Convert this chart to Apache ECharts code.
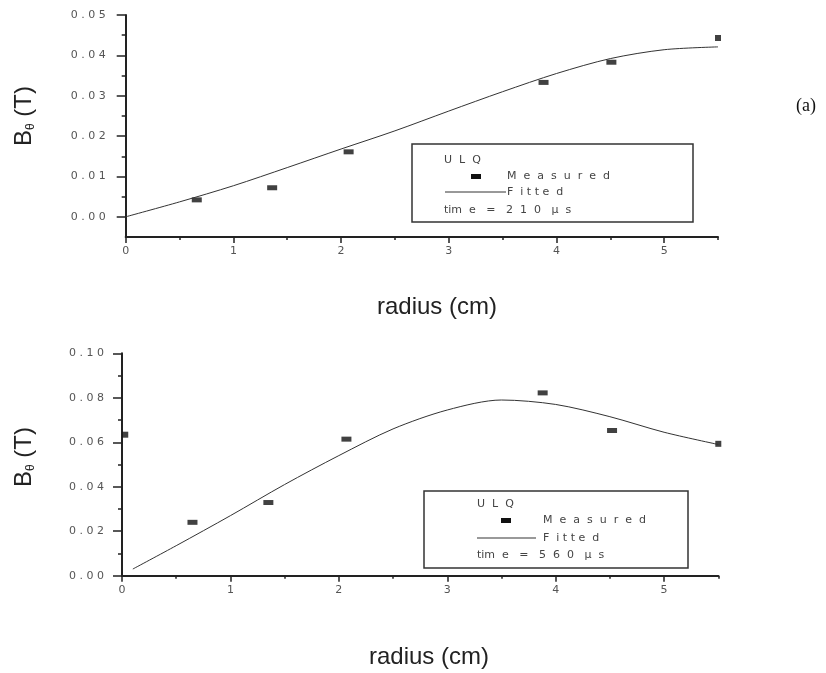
<!DOCTYPE html>
<html>
<head>
<meta charset="utf-8">
<script src="https://cdn.jsdelivr.net/npm/echarts@6/dist/echarts.min.js"></script>
<style>
  html, body { margin: 0; padding: 0; background: #fff; }
  #box { width: 826px; height: 673px; }
</style>
</head>
<body>
<div id="box"></div>
<script>
// panel (a) top: t = 210 us
var topR = [0.66, 1.36, 2.07, 3.88, 4.51, 5.50];
var topMeasured = [0.0042, 0.0072, 0.0161, 0.0333, 0.0383, 0.0443];
var topFitR = [0, 0.5, 1, 1.5, 2, 2.5, 3, 3.5, 4, 4.5, 5, 5.5];
var topFitB = [0, 0.0037, 0.0077, 0.0122, 0.0168, 0.0213, 0.0262, 0.0310, 0.0355, 0.0392, 0.0414, 0.0421];

// bottom: t = 560 us
var botR = [0.03, 0.65, 1.35, 2.07, 3.88, 4.52, 5.50];
var botMeasured = [0.0634, 0.0240, 0.0329, 0.0614, 0.0822, 0.0653, 0.0593];
var botFitR = [0.1, 0.5, 1, 1.5, 2, 2.5, 3, 3.5, 4, 4.5, 5, 5.5];
var botFitB = [0.003, 0.0135, 0.027, 0.041, 0.054, 0.066, 0.0745, 0.079, 0.077, 0.0715, 0.0645, 0.059];

// ticks
var xMajor = [0, 1, 2, 3, 4, 5];
var xMinor = [0.5, 1.5, 2.5, 3.5, 4.5, 5.5];
var topYMajor = [0, 0.01, 0.02, 0.03, 0.04, 0.05];
var topYMinor = [0.005, 0.015, 0.025, 0.035, 0.045];
var botYMajor = [0, 0.02, 0.04, 0.06, 0.08, 0.10];
var botYMinor = [0.01, 0.03, 0.05, 0.07, 0.09];

function pairs(a, b) {
    var out = [];
    for (var i = 0; i < a.length; i++) out.push([a[i], b[i]]);
    return out;
}
function spaced(s) { return s.split('').join(' '); }

var axisCol = '#222';
var labCol = '#555';
var tickFont = 'DejaVu Sans';

function xAxes(grid) {
    return [{
        type: 'value', gridIndex: grid, min: 0, max: 5.5, position: 'bottom',
        axisLine: { show: true, onZero: false, lineStyle: { color: axisCol, width: 2 } },
        axisTick: { show: true, customValues: xMajor, length: 6, lineStyle: { color: axisCol, width: 1.5 } },
        axisLabel: { customValues: xMajor, margin: 9, fontSize: 11, fontFamily: tickFont, color: labCol },
        splitLine: { show: false }
    }, {
        type: 'value', gridIndex: grid, min: 0, max: 5.5, position: 'bottom',
        axisLine: { show: false, onZero: false },
        axisTick: { show: true, customValues: xMinor, length: 3, lineStyle: { color: axisCol, width: 1.5 } },
        axisLabel: { show: false },
        splitLine: { show: false }
    }];
}
function yAxes(grid, min, max, major, minor, margin) {
    return [{
        type: 'value', gridIndex: grid, min: min, max: max, position: 'left',
        axisLine: { show: true, onZero: false, lineStyle: { color: axisCol, width: 2 } },
        axisTick: { show: true, customValues: major, length: 9, lineStyle: { color: axisCol, width: 1.5 } },
        axisLabel: {
            customValues: major, margin: margin, fontSize: 11, fontFamily: tickFont, color: labCol,
            formatter: function (v) { return spaced(v.toFixed(2)); }
        },
        splitLine: { show: false }
    }, {
        type: 'value', gridIndex: grid, min: min, max: max, position: 'left',
        axisLine: { show: false, onZero: false },
        axisTick: { show: true, customValues: minor, length: 4, lineStyle: { color: axisCol, width: 1.5 } },
        axisLabel: { show: false },
        splitLine: { show: false }
    }];
}

function markSize(v) {
    return (v[0] > 5.4 || v[0] < 0.1) ? [6, 6] : [10, 5];
}

var legFont = '11px "DejaVu Sans"';
function legendBox(x0, y0, x1, y1, tx, mx, my, lx0, lx1, ly, sx, rows, lineCol, lineW, timeTxt) {
    return [
        { type: 'rect', shape: { x: x0, y: y0, width: x1 - x0, height: y1 - y0 },
          style: { fill: 'none', stroke: '#333', lineWidth: 1.5 } },
        { type: 'text', x: tx, y: rows[0], style: { text: 'U  L  Q', font: legFont, fill: '#444', verticalAlign: 'middle' } },
        { type: 'rect', shape: { x: mx - 5, y: my - 2.5, width: 10, height: 5 }, style: { fill: '#111' } },
        { type: 'text', x: sx, y: rows[1], style: { text: 'M  e  a  s  u  r  e  d', font: legFont, fill: '#444', verticalAlign: 'middle' } },
        { type: 'line', shape: { x1: lx0, y1: ly, x2: lx1, y2: ly }, style: { stroke: lineCol, lineWidth: lineW } },
        { type: 'text', x: sx, y: rows[2], style: { text: 'F  i t t e  d', font: legFont, fill: '#444', verticalAlign: 'middle' } },
        { type: 'text', x: tx, y: rows[3], style: { text: timeTxt, font: legFont, fill: '#444', verticalAlign: 'middle' } }
    ];
}

var titleFont = '24px "Liberation Sans"';
function yTitle(x, y) {
    return {
        type: 'text', x: x, y: y, rotation: Math.PI / 2,
        style: {
            text: '{b|B}{s|θ}{b| (T)}', align: 'center', verticalAlign: 'middle',
            rich: {
                b: { font: titleFont, fill: '#222', lineHeight: 26, verticalAlign: 'middle' },
                s: { font: '12px "Liberation Sans"', fill: '#222', lineHeight: 26, verticalAlign: 'bottom', padding: [10, 0, 0, 0] }
            }
        }
    };
}

var graphics = [
    { type: 'text', x: 437, y: 307, style: { text: 'radius (cm)', font: titleFont, fill: '#222', align: 'center', verticalAlign: 'middle' } },
    { type: 'text', x: 429, y: 657, style: { text: 'radius (cm)', font: titleFont, fill: '#222', align: 'center', verticalAlign: 'middle' } },
    { type: 'text', x: 806, y: 106, style: { text: '(a)', font: '18px "Liberation Serif"', fill: '#111', align: 'center', verticalAlign: 'middle' } },
    yTitle(24, 116),
    yTitle(24, 457)
].concat(
    legendBox(412, 144, 693, 222, 444, 476, 176.5, 445, 506, 192, 507, [160, 176.5, 192, 210], '#333', 1, 'tim  e   =   2  1  0   µ  s'),
    legendBox(424, 491, 688, 568, 477, 506, 520.5, 477, 536, 538, 543, [504, 520.5, 538, 555.5], '#999', 2, 'tim  e   =   5  6  0   µ  s')
);

var chart = echarts.init(document.getElementById('box'));
chart.setOption({
    animation: false,
    backgroundColor: '#fff',
    grid: [
        { left: 125.7, top: 15, width: 592.3, height: 222 },
        { left: 122, top: 353.3, width: 596.3, height: 222.4 }
    ],
    xAxis: xAxes(0).concat(xAxes(1)),
    yAxis: yAxes(0, -0.005, 0.05, topYMajor, topYMinor, 20).concat(yAxes(1, 0, 0.10, botYMajor, botYMinor, 18)),
    graphic: graphics,
    series: [
        { type: 'line', xAxisIndex: 0, yAxisIndex: 0, data: pairs(topFitR, topFitB), smooth: 0.3,
          showSymbol: false, lineStyle: { color: '#333', width: 1 } },
        { type: 'scatter', xAxisIndex: 0, yAxisIndex: 0, data: pairs(topR, topMeasured),
          symbol: 'rect', symbolSize: markSize, itemStyle: { color: '#111' } },
        { type: 'line', xAxisIndex: 2, yAxisIndex: 2, data: pairs(botFitR, botFitB), smooth: 0.3,
          showSymbol: false, lineStyle: { color: '#333', width: 1 } },
        { type: 'scatter', xAxisIndex: 2, yAxisIndex: 2, data: pairs(botR, botMeasured),
          symbol: 'rect', symbolSize: markSize, itemStyle: { color: '#111' } }
    ]
});
</script>
</body>
</html>
